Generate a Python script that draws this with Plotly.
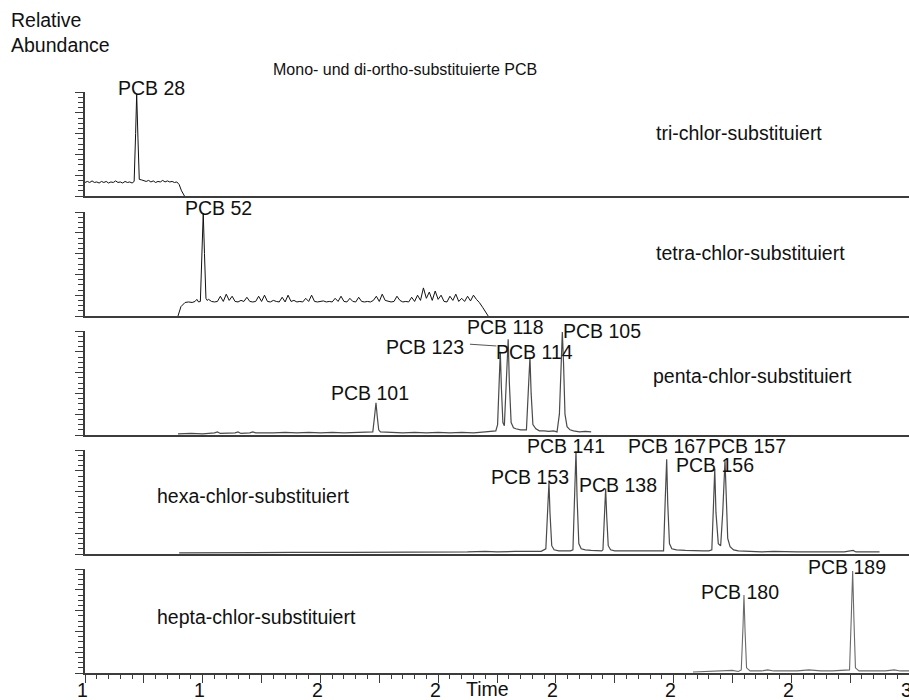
import plotly.graph_objects as go

# ---------------------------------------------------------------- data
# retention time (min) and relative abundance (%) per mass trace
TRI_TIME = [16.00, 16.04, 16.08, 16.12, 16.16, 16.20, 16.24, 16.28, 16.32, 16.36,
            16.40, 16.44, 16.48, 16.52, 16.56, 16.60, 16.64, 16.68, 16.72, 16.76,
            16.80, 16.835, 16.86, 16.878, 16.90, 16.922, 16.96, 17.00, 17.04, 17.08,
            17.12, 17.16, 17.20, 17.24, 17.28, 17.32, 17.36, 17.40, 17.44, 17.48,
            17.52, 17.56, 17.60, 17.64, 17.69]
TRI_ABUND = [13, 14, 13, 14.5, 13, 13.5, 12.5, 14, 13, 14,
             12.5, 13.5, 13, 14.5, 13, 13.5, 12.5, 14, 13, 13.5,
             12.5, 14, 60, 98, 55, 16, 15.5, 15, 14, 15,
             13.5, 14.5, 13, 14, 13.5, 15, 13.5, 14.5, 13.5, 14,
             13, 13.5, 11, 5, 0]

TETRA_TIME = [17.58, 17.63, 17.70, 17.76, 17.82, 17.87, 17.90, 17.93, 17.96, 17.985,
              18.009, 18.03, 18.055, 18.075,
              18.10, 18.15, 18.20, 18.25, 18.30, 18.35, 18.40, 18.45, 18.50, 18.55,
              18.60, 18.65, 18.70, 18.75, 18.80, 18.85, 18.90, 18.95, 19.00, 19.05,
              19.10, 19.15, 19.20, 19.25, 19.30, 19.35, 19.40, 19.45, 19.50, 19.55,
              19.60, 19.65, 19.70, 19.75, 19.80, 19.85, 19.90, 19.95, 20.00, 20.05,
              20.10, 20.15, 20.20, 20.25, 20.30, 20.35, 20.40, 20.45, 20.50, 20.55,
              20.60, 20.65, 20.70, 20.75, 20.80, 20.85, 20.90, 20.95, 21.00, 21.05,
              21.10, 21.15, 21.20, 21.25, 21.30, 21.35, 21.40, 21.45, 21.50, 21.55,
              21.60, 21.65, 21.70, 21.75, 21.80, 21.85, 21.90, 21.95, 22.00, 22.05,
              22.10, 22.15, 22.20, 22.25, 22.30, 22.35, 22.40, 22.45, 22.50, 22.55,
              22.60, 22.65,
              22.70, 22.76, 22.85]
TETRA_ABUND = [0, 9, 13, 13.5, 13, 14, 16, 13.5, 14, 60,
               99, 60, 17, 15,
               16, 14, 13.5, 14, 19, 14, 21, 15, 19, 14,
               13.5, 15, 14, 18, 14, 13.5, 14, 19, 14, 20,
               14, 13.5, 15, 14, 13.5, 18, 13.5, 20, 14, 15,
               13.5, 14, 13.5, 17, 14, 20, 14, 13.5, 14, 14.5,
               13.5, 14, 13.5, 17, 14, 19, 14, 13.5, 17, 14,
               13.5, 18, 14, 13.5, 14, 13.5, 15, 19, 14, 21,
               15, 14, 13.5, 14, 19, 15, 13.5, 14, 13.5, 18,
               14, 20, 15, 27, 17, 23, 15, 24, 16, 20,
               14, 13.5, 19, 15, 21, 14, 17, 14, 19, 14.5,
               20, 16,
               13, 8, 0]

PENTA_TIME = [17.58, 17.80, 18.00, 18.20, 18.25, 18.30, 18.55, 18.60, 18.65, 18.80,
              18.85, 18.90, 19.20, 19.40, 19.60, 19.80, 20.00, 20.20, 20.40, 20.60,
              20.80, 20.89, 20.92, 20.944, 20.965, 20.99, 21.02, 21.20, 21.40, 21.60,
              21.80, 22.00, 22.20, 22.40, 22.60, 22.80, 22.90, 22.98, 23.01, 23.04,
              23.056, 23.075, 23.10, 23.125, 23.16, 23.19, 23.21, 23.24, 23.28, 23.32,
              23.40, 23.47, 23.50, 23.53, 23.56, 23.58, 23.61, 23.66, 23.72, 23.80,
              23.88, 23.96, 24.02, 24.06, 24.09, 24.11, 24.13, 24.155, 24.19, 24.24,
              24.30, 24.40, 24.50, 24.60]
PENTA_ABUND = [1, 1.5, 1, 2, 3, 1.5, 2, 3, 1.5, 2,
               3, 2, 2, 2.5, 2, 2.5, 2, 2.5, 2, 2.5,
               2.5, 3, 18, 31, 18, 5, 3, 2.5, 2, 2.5,
               2, 2.5, 2, 2.5, 2, 3, 3.5, 4, 10, 60,
               80, 45, 12, 9, 55, 92, 50, 12, 7, 6,
               5, 4.5, 5, 40, 75, 40, 10, 6, 4, 4,
               3.5, 4, 3, 20, 80, 99, 70, 20, 8, 5,
               4, 3, 3.5, 3]

HEXA_TIME = [17.60, 18.50, 19.50, 20.50, 21.00, 21.50, 22.00, 22.50, 22.80, 23.00,
             23.30, 23.60, 23.75, 23.83, 23.86, 23.883, 23.90, 23.93, 23.97, 24.05,
             24.15, 24.25, 24.29, 24.32, 24.342, 24.36, 24.39, 24.43, 24.50, 24.60,
             24.70, 24.78, 24.80, 24.83, 24.846, 24.865, 24.89, 24.93, 25.00, 25.20,
             25.40, 25.60, 25.75, 25.83, 25.86, 25.883, 25.90, 25.93, 25.97, 26.05,
             26.20, 26.35, 26.50, 26.60, 26.65, 26.68, 26.70, 26.72, 26.76, 26.80,
             26.835, 26.874, 26.895, 26.92, 26.96, 27.02, 27.10, 27.30, 27.50, 27.70,
             27.90, 28.10, 28.30, 28.50, 28.70, 28.90, 29.05, 29.10, 29.30, 29.50]
HEXA_ABUND = [1, 1.5, 1.5, 1.5, 1.5, 2, 2, 2, 2.5, 2,
              2.5, 2.5, 2.5, 5, 45, 69, 40, 8, 4, 3,
              3, 3, 4, 60, 99, 55, 10, 5, 4, 3.5,
              3, 3, 4, 40, 63, 35, 8, 4, 3, 3,
              3, 2.5, 2.5, 3, 55, 91, 50, 10, 5, 4,
              3.5, 3, 3, 3, 4, 50, 82, 40, 10, 8,
              40, 90, 55, 15, 7, 4, 3, 2.5, 2, 2.5,
              2, 2, 2, 2, 2, 2, 3.5, 2, 2, 2]

HEPTA_TIME = [26.33, 26.50, 26.70, 26.90, 27.00, 27.10, 27.15, 27.18, 27.196, 27.215,
              27.24, 27.30, 27.50, 27.60, 27.70, 27.90, 28.10, 28.30, 28.50, 28.70,
              28.90, 28.99, 29.02, 29.043, 29.065, 29.09, 29.15, 29.30, 29.45, 29.60,
              29.75, 29.85, 30.00]
HEPTA_ABUND = [1, 1.5, 1.5, 2, 2.5, 1.5, 3, 45, 75, 40,
               5, 2, 2, 3, 2, 2, 2, 3, 2, 2,
               2.5, 3, 55, 98, 50, 5, 2, 2, 2, 2,
               3, 2, 2]

# peak names per trace
TRI_PEAKS = ["PCB 28"]
TETRA_PEAKS = ["PCB 52"]
PENTA_PEAKS = ["PCB 101", "PCB 123", "PCB 118", "PCB 114", "PCB 105"]
HEXA_PEAKS = ["PCB 153", "PCB 141", "PCB 138", "PCB 167", "PCB 157", "PCB 156"]
HEPTA_PEAKS = ["PCB 180", "PCB 189"]

PANEL_NAMES = ["tri-chlor-substituiert", "tetra-chlor-substituiert",
               "penta-chlor-substituiert", "hexa-chlor-substituiert",
               "hepta-chlor-substituiert"]

TIME_TICKS = [16, 17, 18, 19, 20, 21, 22, 23, 24, 25, 26, 27, 28, 29, 30]
TIME_TICK_TEXT = ["1", "", "1", "", "2", "", "2", "", "2", "", "2", "", "2", "", "3"]

# ---------------------------------------------------------------- layout
W, H = 909, 700
FONT = "Liberation Sans, Arial, Helvetica, sans-serif"
X_LEFT = 85
T_MIN, T_MAX = 16, 30
PANEL_BOTTOMS = [196, 316, 435, 554, 673]
PANEL_HEIGHT = 104
TICK_LABEL_Y = 690

# label anchor (time, abundance) for every peak label, per panel
LABEL_POS = [
    [(17.13, 103.6)],
    [(18.26, 103.8)],
    [(20.84, 40.7), (21.78, 84.9), (23.14, 103.8), (23.645, 80.1), (24.78, 100.3)],
    [(23.56, 73.8), (24.18, 103.8), (25.06, 66.3), (25.88, 103.8), (27.24, 103.8),
     (26.70, 85.6)],
    [(27.13, 78.2), (28.94, 102.2)],
]
# panel caption positions in pixels (left edge, vertical centre)
CAPTION_POS = [(654, 133), (654, 253), (651, 376), (155, 496), (155, 617)]

LINE_STYLES = [("#111111", 1.0), ("#111111", 1.0), ("#4a4a4a", 1.2),
               ("#4a4a4a", 1.2), ("#6a6a6a", 1.1)]

traces = [(TRI_TIME, TRI_ABUND, TRI_PEAKS),
          (TETRA_TIME, TETRA_ABUND, TETRA_PEAKS),
          (PENTA_TIME, PENTA_ABUND, PENTA_PEAKS),
          (HEXA_TIME, HEXA_ABUND, HEXA_PEAKS),
          (HEPTA_TIME, HEPTA_ABUND, HEPTA_PEAKS)]


def px_x(px):
    return px / W


def px_y(py):
    return 1 - py / H


def panel_to_paper(i, t, a):
    """Convert (time, abundance) in panel i to paper coordinates."""
    px = X_LEFT + (t - T_MIN) / (T_MAX - T_MIN) * (W - X_LEFT)
    py = PANEL_BOTTOMS[i] - a / 100 * PANEL_HEIGHT
    return px_x(px), px_y(py)


fig = go.Figure()
annotations = []
layout = {}
TEXT_FONT = dict(family=FONT, size=19.5, color="#111")

for i, (t, a, peaks) in enumerate(traces):
    n = i + 1
    xa = "x" if n == 1 else f"x{n}"
    ya = "y" if n == 1 else f"y{n}"
    color, width = LINE_STYLES[i]
    fig.add_trace(go.Scatter(x=t, y=a, mode="lines", xaxis=xa, yaxis=ya,
                             line=dict(color=color, width=width),
                             hoverinfo="x+y", showlegend=False))

    bottom = PANEL_BOTTOMS[i]
    last = (n == len(traces))
    layout[f"xaxis{n}"] = dict(
        domain=[px_x(X_LEFT), 1], range=[T_MIN, T_MAX], anchor=ya, automargin=False,
        showline=True, linecolor="#3c3c3c", linewidth=2,
        showgrid=False, zeroline=False, fixedrange=True,
        tickmode="array", tickvals=TIME_TICKS,
        ticks="outside" if last else "", ticklen=8, tickwidth=1, tickcolor="#3c3c3c",
        showticklabels=False,
        minor=dict(dtick=0.2, tick0=T_MIN, ticks="outside" if last else "",
                   ticklen=4, tickwidth=1, tickcolor="#3c3c3c", showgrid=False),
    )
    layout[f"yaxis{n}"] = dict(
        domain=[px_y(bottom), px_y(bottom - PANEL_HEIGHT)], range=[0, 100],
        anchor=xa, automargin=False, showline=True, linecolor="#3c3c3c",
        linewidth=1.5, showgrid=False, zeroline=False, fixedrange=True,
        tickmode="linear", tick0=0, dtick=20, ticks="outside", ticklen=8,
        tickwidth=1, tickcolor="#3c3c3c", showticklabels=False,
        minor=dict(dtick=5, tick0=0, ticks="outside", ticklen=5, tickwidth=1,
                   tickcolor="#3c3c3c", showgrid=False),
    )

    for name, (lt, la) in zip(peaks, LABEL_POS[i]):
        ax_, ay_ = panel_to_paper(i, lt, la)
        annotations.append(dict(text=name, x=ax_, y=ay_, xref="paper", yref="paper",
                                xanchor="center", yanchor="middle", showarrow=False,
                                font=TEXT_FONT))

    cx, cy = CAPTION_POS[i]
    annotations.append(dict(text=PANEL_NAMES[i], x=px_x(cx), y=px_y(cy),
                            xref="paper", yref="paper", xanchor="left",
                            yanchor="middle", showarrow=False, font=TEXT_FONT))

# time axis labels, set just under the bottom panel's ticks
for tv, tt in zip(TIME_TICKS, TIME_TICK_TEXT):
    if tt:
        annotations.append(dict(text=tt, x=tv, y=px_y(TICK_LABEL_Y), xref="x5",
                                yref="paper", xanchor="center", yanchor="middle",
                                xshift=-3, showarrow=False, font=TEXT_FONT))

annotations.append(dict(text="Relative<br>Abundance", x=px_x(9), y=px_y(7),
                        xref="paper", yref="paper", xanchor="left", yanchor="top",
                        align="left", showarrow=False, font=TEXT_FONT))
annotations.append(dict(text="Mono- und di-ortho-substituierte PCB", x=px_x(405),
                        y=px_y(70), xref="paper", yref="paper", xanchor="center",
                        yanchor="middle", showarrow=False,
                        font=dict(family=FONT, size=16, color="#111")))
annotations.append(dict(text="Time", x=px_x(487), y=px_y(689), xref="paper",
                        yref="paper", xanchor="center", yanchor="middle",
                        showarrow=False, font=TEXT_FONT))

# leader from the PCB 123 label to its peak
shapes = [dict(type="line", xref="x3", yref="y3", x0=22.54, y0=87.3, x1=22.99, y1=85.6,
               line=dict(color="#555", width=1))]

fig.update_layout(
    template="none",
    width=W, height=H, margin=dict(l=0, r=0, t=0, b=0, pad=0, autoexpand=False),
    paper_bgcolor="white", plot_bgcolor="white", showlegend=False,
    annotations=annotations, shapes=shapes, **layout,
)

fig.write_html("out.html")
